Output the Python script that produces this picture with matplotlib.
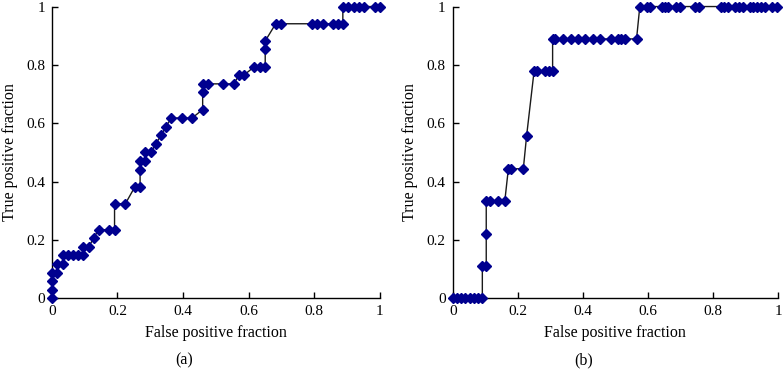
import matplotlib.pyplot as plt

plt.rcParams["font.family"] = ["Liberation Serif", "DejaVu Serif"]

# panel (a) ROC points
fpr_a = [0, 0, 0, 0, 0.016, 0.016, 0.033, 0.033, 0.048, 0.063, 0.079, 0.096,
         0.096, 0.112, 0.127, 0.142, 0.173, 0.191, 0.191, 0.224, 0.253, 0.269,
         0.269, 0.269, 0.285, 0.285, 0.302, 0.317, 0.333, 0.348, 0.364, 0.396,
         0.428, 0.460, 0.460, 0.460, 0.476, 0.522, 0.555, 0.571, 0.586, 0.618,
         0.635, 0.651, 0.651, 0.651, 0.683, 0.698, 0.794, 0.809, 0.826, 0.857,
         0.872, 0.888, 0.888, 0.905, 0.921, 0.938, 0.953, 0.985, 1.0]
tpr_a = [0, 0.029, 0.059, 0.088, 0.088, 0.118, 0.118, 0.147, 0.147, 0.147,
         0.147, 0.147, 0.176, 0.176, 0.206, 0.235, 0.235, 0.235, 0.324, 0.324,
         0.382, 0.382, 0.441, 0.471, 0.471, 0.5, 0.5, 0.529, 0.559, 0.588,
         0.618, 0.618, 0.618, 0.647, 0.706, 0.735, 0.735, 0.735, 0.735, 0.765,
         0.765, 0.794, 0.794, 0.794, 0.853, 0.882,
         0.941, 0.941, 0.941, 0.941, 0.941, 0.941, 0.941, 0.941,
         1.0, 1.0, 1.0, 1.0, 1.0, 1.0, 1.0]

# panel (b) ROC points
fpr_b = [0, 0.013, 0.026, 0.039, 0.052, 0.065, 0.078, 0.091, 0.091, 0.103,
         0.103, 0.103, 0.115, 0.138, 0.160, 0.171, 0.180, 0.217, 0.227, 0.250,
         0.259, 0.284, 0.296, 0.307, 0.307, 0.315, 0.340, 0.363, 0.386, 0.408,
         0.430, 0.452, 0.486, 0.508, 0.518, 0.531, 0.565, 0.575, 0.598, 0.607,
         0.642, 0.651, 0.663, 0.687, 0.698, 0.746, 0.757, 0.824, 0.835, 0.846,
         0.868, 0.880, 0.891, 0.913, 0.924, 0.936, 0.948, 0.961, 0.981, 0.996]
tpr_b = [0, 0, 0, 0, 0, 0, 0, 0, 0.111, 0.111,
         0.222, 0.333, 0.333, 0.333, 0.333, 0.444, 0.444, 0.444, 0.556, 0.778,
         0.778, 0.778, 0.778, 0.778, 0.889, 0.889, 0.889, 0.889, 0.889, 0.889,
         0.889, 0.889, 0.889, 0.889, 0.889, 0.889, 0.889, 1.0, 1.0, 1.0,
         1.0, 1.0, 1.0, 1.0, 1.0, 1.0, 1.0, 1.0, 1.0, 1.0,
         1.0, 1.0, 1.0, 1.0, 1.0, 1.0, 1.0, 1.0, 1.0, 1.0]

ticks = [0, 0.2, 0.4, 0.6, 0.8, 1]
tick_labels = ["0", "0.2", "0.4", "0.6", "0.8", "1"]
panels = [("(a)", fpr_a, tpr_a), ("(b)", fpr_b, tpr_b)]

fig = plt.figure(figsize=(7.83, 3.76), dpi=100)
boxes = [(0.0664, 0.4183), (0.5782, 0.4155)]

for (left, width), (tag, fpr, tpr) in zip(boxes, panels):
    ax = fig.add_axes([left, 0.2066, width, 0.776])
    ax.plot(fpr, tpr, color="#1a1a1a", lw=1.0, zorder=2, clip_on=False)
    ax.plot(fpr, tpr, ls="none", marker="D", markersize=4.6,
            color="#00008f", zorder=3, clip_on=False)
    ax.set_xlim(0, 1)
    ax.set_ylim(0, 1)
    ax.set_xticks(ticks, tick_labels)
    ax.set_yticks(ticks, tick_labels)
    ax.tick_params(direction="in", length=4, width=1, labelsize=11, pad=5)
    for side in ("top", "right"):
        ax.spines[side].set_visible(False)
    for side in ("left", "bottom"):
        ax.spines[side].set_linewidth(1.0)
    ax.set_xlabel("False positive fraction", fontsize=11.5, labelpad=5)
    ax.set_ylabel("True positive fraction", fontsize=11.5, labelpad=6)
    fig.text(left + width / 2 - 0.04, 0.02, tag, ha="center", va="bottom",
             fontsize=11.5)

fig.savefig("out.png", dpi=100)
